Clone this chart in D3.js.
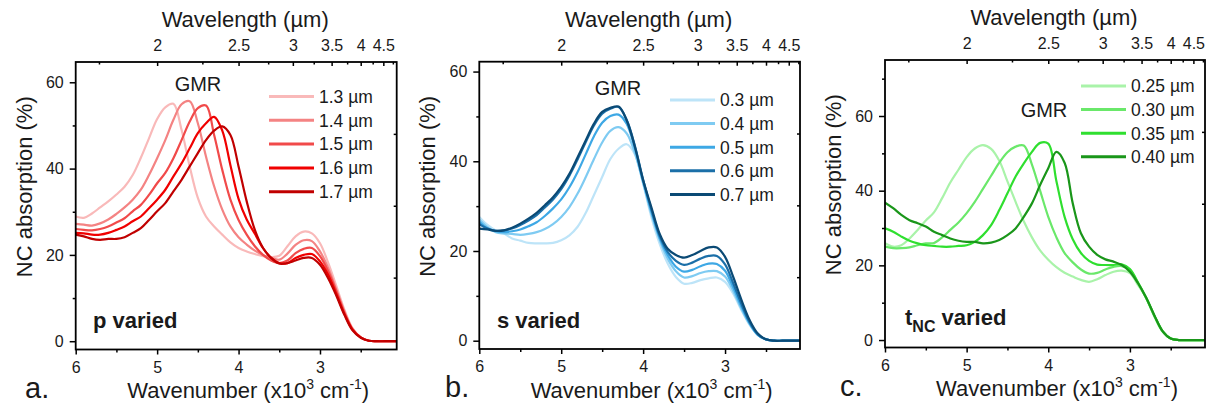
<!DOCTYPE html>
<html><head><meta charset="utf-8">
<script src="https://cdn.jsdelivr.net/npm/d3@7"></script>
<style>
body{margin:0;background:#fff}
svg{display:block}
text{font-family:"Liberation Sans",Arial,sans-serif;fill:#1a1a1a}
</style>
</head><body>
<svg id="chart" width="1213" height="408"></svg>
<script>
// ---------- DATA ----------
const wavenumbers = [6.0,5.9,5.8,5.7,5.6,5.5,5.4,5.3,5.2,5.1,5.0,4.9,4.8,4.7,4.6,4.5,4.4,4.3,4.2,4.1,4.0,3.9,3.8,3.7,3.6,3.5,3.4,3.3,3.2,3.1,3.0,2.9,2.8,2.7,2.6,2.5,2.4,2.3,2.2,2.1,2.0];

// panel a: p varied
const pLabels = ["1.3 µm","1.4 µm","1.5 µm","1.6 µm","1.7 µm"];
const p13 = [28.9,28.6,29.6,31.0,32.4,34.0,35.8,38.5,42.5,47.0,51.5,54.2,55.0,49.0,40.5,33.2,28.9,26.6,24.7,22.9,21.6,20.8,20.2,19.7,19.5,19.8,22.0,24.3,25.4,25.0,22.7,18.2,12.8,7.3,3.0,0.9,0.1,0,0,0,0];
const p14 = [27.2,27.0,26.8,27.3,28.2,29.5,31.0,32.8,35.1,38.5,42.4,46.6,51.3,54.9,55.6,50.5,42.8,35.9,30.5,26.6,24.1,22.4,21.0,20.0,19.3,18.9,20.3,22.3,23.4,23.2,20.8,17.0,12.0,6.9,2.9,0.9,0.1,0,0,0,0];
const p15 = [26.0,25.8,25.7,26.0,26.6,27.5,28.5,30.1,31.6,33.9,36.6,39.0,42.4,46.6,50.9,54.0,54.6,47.8,39.7,32.8,28.1,24.7,22.0,20.0,18.7,18.1,18.7,20.4,21.4,21.6,19.7,16.2,11.6,6.6,2.7,0.9,0.1,0,0,0,0];
const p16 = [25.1,25.0,24.7,24.7,25.1,25.8,26.6,27.8,28.9,30.8,32.8,35.1,38.2,41.2,44.7,48.2,50.5,52.0,48.8,40.8,33.0,28.2,24.9,21.6,19.3,18.1,18.1,19.3,20.0,20.2,18.5,15.4,11.0,6.3,2.7,0.9,0.1,0,0,0,0];
const p17 = [24.7,24.3,23.7,23.5,23.7,23.7,24.1,25.1,26.2,28.1,30.1,32.0,34.7,37.4,40.5,43.6,46.6,48.8,49.8,47.8,40.5,32.4,25.8,21.6,19.3,18.0,18.1,18.7,19.3,19.3,17.7,14.6,10.6,6.1,2.5,0.8,0.1,0,0,0,0];

// panel b: s varied
const sLabels = ["0.3 µm","0.4 µm","0.5 µm","0.6 µm","0.7 µm"];
const s03 = [27.6,25.8,24.6,23.9,22.8,22.3,21.8,21.7,21.7,21.8,22.4,23.5,25.4,28.5,32.5,36.5,40.5,42.8,43.8,41.5,35.0,27.6,21.7,17.2,14.2,12.7,12.9,13.5,13.9,14.1,13.1,10.5,6.8,3.5,1.3,0.3,0,0,0,0,0];
const s04 = [27.0,25.3,24.2,23.9,23.8,23.6,23.8,24.2,24.9,26.0,27.6,29.8,32.8,36.5,40.5,44.2,46.8,47.6,46.2,41.8,35.2,28.3,22.6,18.3,15.5,14.1,14.4,15.1,15.5,15.5,14.3,11.1,7.1,3.7,1.3,0.3,0,0,0,0,0];
const s05 = [26.5,25.0,24.4,24.2,24.4,24.8,25.5,26.4,27.8,29.5,31.5,34.2,37.6,41.6,45.6,48.6,50.1,50.4,48.3,42.8,35.5,28.9,23.0,19.1,16.5,15.4,15.8,16.6,17.2,17.1,15.6,11.9,7.6,3.9,1.3,0.3,0,0,0,0,0];
const s06 = [26.0,25.0,24.5,24.6,25.0,25.8,26.8,28.0,29.7,31.5,33.8,36.8,40.4,44.3,48.0,50.6,51.7,52.1,49.2,43.4,35.9,29.3,23.5,19.8,17.8,16.9,17.4,18.3,18.9,18.9,17.0,12.8,8.2,4.1,1.4,0.3,0,0,0,0,0];
const s07 = [25.0,24.8,24.5,24.6,25.2,26.1,27.2,28.5,30.2,32.0,34.3,37.2,40.9,44.7,48.4,51.0,51.9,52.2,49.1,43.2,35.8,29.8,23.9,20.5,19.1,18.5,19.1,20.0,20.8,20.8,18.7,14.2,9.1,4.6,1.6,0.3,0,0,0,0,0];

// panel c: tNC varied
const tLabels = ["0.25 µm","0.30 µm","0.35 µm","0.40 µm"];
const t25 = [25.9,25.0,25.4,27.2,29.5,32.0,34.2,38.0,42.2,45.6,49.0,51.3,52.2,51.2,48.0,42.5,37.0,31.8,27.5,24.0,21.5,19.5,18.0,17.0,16.1,15.6,16.3,17.4,18.3,18.6,17.9,14.7,11.2,6.3,2.2,0.4,0,0,0,0,0];
const t30 = [25.0,24.6,24.6,24.8,25.4,25.9,26.0,27.5,29.5,31.5,34.0,37.0,40.5,44.0,47.5,50.3,51.8,52.1,47.0,40.0,33.0,27.5,23.3,20.8,18.9,17.8,18.0,18.9,19.6,19.8,18.8,15.2,11.2,6.4,2.4,0.4,0,0,0,0,0];
const t35 = [29.9,29.0,27.7,26.6,25.9,25.4,25.2,25.0,25.0,25.2,25.4,26.3,28.1,30.8,34.8,39.3,43.8,47.3,50.4,52.8,52.6,42.5,33.0,27.0,23.3,21.2,20.2,20.1,20.1,20.3,19.0,15.4,11.3,6.6,2.4,0.4,0,0,0,0,0];
const t40 = [36.8,35.3,33.5,32.1,31.3,30.4,29.0,28.1,27.2,26.6,26.3,26.3,25.9,26.1,26.8,28.1,29.9,33.0,36.6,41.5,46.0,50.4,47.5,36.6,28.6,25.0,22.8,21.6,21.0,20.1,18.3,15.2,11.3,6.6,2.4,0.4,0,0,0,0,0];

// axis ticks
const wavenumberTicks = [6,5,4,3];
const wavenumberMinor = [5.5,4.5,3.5,2.5];
const wavelengthTicks = [2,2.5,3,3.5,4,4.5];
const wavelengthMinor = [1.75,2.25,2.75,3.25,3.75,4.25,4.75];
const absorptionTicks = [0,20,40,60];
const absorptionMinorAB = [10,30,50];
const absorptionMinorC = [10,30,50,70];
const rightTicks = [0.25,0.5,0.75];

// ---------- STYLES ----------
const redColors = ["#f9b9b9","#f48383","#f14a4a","#f00000","#c00000"];
const blueColors = ["#bde4f8","#7fcbf2","#3ea8e5","#1b6fa8","#0b4a75"];
const greenColors = ["#a9f3a9","#6ae86a","#2fdf2f","#1a961a"];

const panels = [
  {id:"a", series:[p13,p14,p15,p16,p17], labels:pLabels, colors:redColors,
   xEnd:2.058, left:75.7, right:396.7, top:62, bottom:349.5, yDom:[-1.92,64.7], yMinor:absorptionMinorAB,
   gmr:[198,91], legX:269, legY:96.5, legStep:23.8, letter:"a.", letterX:25,
   tag:[93,328], tagMain:"p", tagSub:null},
  {id:"b", series:[s03,s04,s05,s06,s07], labels:sLabels, colors:blueColors,
   xEnd:2.085, left:479.3, right:800, top:61.7, bottom:349, yDom:[-1.85,62.2], yMinor:absorptionMinorAB,
   gmr:[618,95], legX:670, legY:100, legStep:23.6, letter:"b.", letterX:445,
   tag:[497,328], tagMain:"s", tagSub:null},
  {id:"c", series:[t25,t30,t35,t40], labels:tLabels, colors:greenColors,
   xEnd:2.08, left:885, right:1205, top:60, bottom:347.5, yDom:[-2,75], yMinor:absorptionMinorC,
   gmr:[1044,117], legX:1081, legY:86, legStep:23.6, letter:"c.", letterX:840,
   tag:[905,325], tagMain:"t", tagSub:"NC"}
];

const svg = d3.select("#chart");

panels.forEach(cfg => {
  const g = svg.append("g");
  const x = d3.scaleLinear().domain([6, cfg.xEnd]).range([cfg.left, cfg.right]);
  const y = d3.scaleLinear().domain(cfg.yDom).range([cfg.bottom, cfg.top]);
  // wavelength (µm) = 10 / wavenumber(x10^3 cm^-1): reciprocal => pow scale exponent -1
  const xw = d3.scalePow().exponent(-1).domain([10/6, 10/cfg.xEnd]).range([cfg.left, cfg.right]);
  const yr = d3.scaleLinear().domain([0,1]).range([cfg.bottom, cfg.top]);

  const clipId = "clip-" + cfg.id;
  g.append("clipPath").attr("id", clipId).append("rect")
    .attr("x", cfg.left).attr("y", cfg.top)
    .attr("width", cfg.right - cfg.left).attr("height", cfg.bottom - cfg.top);

  const line = d3.line()
    .x((d, i) => x(wavenumbers[i]))
    .y(d => y(d))
    .curve(d3.curveCatmullRom.alpha(0.5));

  const lg = g.append("g").attr("clip-path", `url(#${clipId})`);
  cfg.series.forEach((s, i) => {
    lg.append("path").datum(s).attr("d", line)
      .attr("fill", "none").attr("stroke", cfg.colors[i])
      .attr("stroke-width", 2.2).attr("stroke-linejoin", "round");
  });

  // axes
  const styleAxis = sel => {
    sel.select(".domain").remove();
    sel.selectAll("line").attr("stroke", "#000").attr("stroke-width", 1.5);
    sel.selectAll("text").attr("font-size", 16).attr("fill", "#1a1a1a")
      .style("font-family", '"Liberation Sans", Arial, sans-serif');
  };

  g.append("g").attr("transform", `translate(0,${cfg.bottom})`)
    .call(d3.axisBottom(x).tickValues(wavenumberTicks).tickSize(5).tickPadding(7).tickFormat(d3.format("d")))
    .call(styleAxis);
  g.append("g").attr("transform", `translate(0,${cfg.bottom})`)
    .call(d3.axisBottom(x).tickValues(wavenumberMinor).tickSize(3).tickFormat(""))
    .call(styleAxis);

  g.append("g").attr("transform", `translate(${cfg.left},0)`)
    .call(d3.axisLeft(y).tickValues(absorptionTicks).tickSize(6).tickPadding(6))
    .call(styleAxis);
  g.append("g").attr("transform", `translate(${cfg.left},0)`)
    .call(d3.axisLeft(y).tickValues(cfg.yMinor).tickSize(3).tickFormat(""))
    .call(styleAxis);

  g.append("g").attr("transform", `translate(0,${cfg.top})`)
    .call(d3.axisTop(xw).tickValues(wavelengthTicks).tickSize(-4).tickPadding(11).tickFormat(d => d))
    .call(styleAxis);
  g.append("g").attr("transform", `translate(0,${cfg.top})`)
    .call(d3.axisTop(xw).tickValues(wavelengthMinor).tickSize(-2.5).tickFormat(""))
    .call(styleAxis);

  g.append("g").attr("transform", `translate(${cfg.right},0)`)
    .call(d3.axisRight(yr).tickValues(rightTicks).tickSize(-3).tickFormat(""))
    .call(styleAxis);

  // frame
  g.append("rect").attr("x", cfg.left).attr("y", cfg.top)
    .attr("width", cfg.right - cfg.left).attr("height", cfg.bottom - cfg.top)
    .attr("fill", "none").attr("stroke", "#000").attr("stroke-width", 1.8);

  // titles
  const cx = (cfg.left + cfg.right) / 2;
  g.append("text").attr("x", cx + 9).attr("y", cfg.top - 35)
    .attr("text-anchor", "middle").attr("font-size", 22).text("Wavelength (µm)");
  const bt = g.append("text").attr("x", cx + 12).attr("y", cfg.bottom + 48.5)
    .attr("text-anchor", "middle").attr("font-size", 22);
  bt.append("tspan").text("Wavenumber (x10");
  bt.append("tspan").attr("font-size", 14).attr("dy", -9).text("3");
  bt.append("tspan").attr("dy", 9).text(" cm");
  bt.append("tspan").attr("font-size", 14).attr("dy", -9).text("-1");
  bt.append("tspan").attr("dy", 9).text(")");

  g.append("text").attr("transform", `translate(${cfg.left - 44},${(cfg.top + cfg.bottom) / 2 - 19}) rotate(-90)`)
    .attr("text-anchor", "middle").attr("font-size", 22).text("NC absorption (%)");

  g.append("text").attr("x", cfg.letterX).attr("y", cfg.bottom + 48).attr("font-size", 29).text(cfg.letter);

  g.append("text").attr("x", cfg.gmr[0]).attr("y", cfg.gmr[1]).attr("text-anchor", "middle")
    .attr("font-size", 20).text("GMR");

  const tg = g.append("text").attr("x", cfg.tag[0]).attr("y", cfg.tag[1])
    .attr("font-size", 22).attr("font-weight", "bold");
  tg.append("tspan").text(cfg.tagMain);
  if (cfg.tagSub) {
    tg.append("tspan").attr("font-size", 16).attr("dy", 7).text(cfg.tagSub);
    tg.append("tspan").attr("dy", -7).text(" varied");
  } else {
    tg.append("tspan").text(" varied");
  }

  // legend
  cfg.labels.forEach((lab, i) => {
    const ly = cfg.legY + i * cfg.legStep;
    g.append("line").attr("x1", cfg.legX).attr("x2", cfg.legX + 45)
      .attr("y1", ly).attr("y2", ly).attr("stroke", cfg.colors[i]).attr("stroke-width", 3);
    g.append("text").attr("x", cfg.legX + 50).attr("y", ly).attr("dy", "0.36em")
      .attr("font-size", 17.5).text(lab);
  });
});
</script>
</body></html>
